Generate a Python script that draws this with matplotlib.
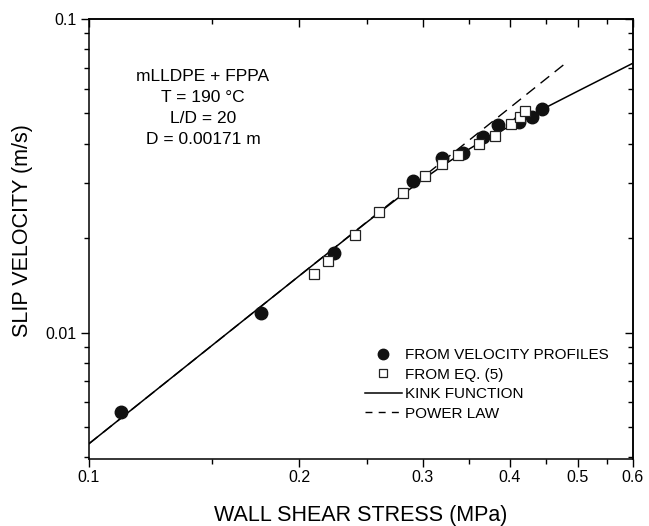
import matplotlib
matplotlib.use("Agg")
import matplotlib.pyplot as plt
from matplotlib.ticker import FixedLocator, NullFormatter, LogLocator, FixedFormatter
from matplotlib.lines import Line2D

plt.rcParams['font.family'] = ['Liberation Sans', 'DejaVu Sans']

# Slip velocity measured from velocity profiles
profile_stress = [0.111, 0.176, 0.224, 0.291, 0.320, 0.343, 0.366, 0.385, 0.412, 0.430, 0.445]
profile_slip = [0.00556, 0.0115, 0.0179, 0.0305, 0.0360, 0.0375, 0.0420, 0.0460, 0.0469, 0.0488, 0.0516]

# Slip velocity computed from Eq. (5)
eq5_stress = [0.2095, 0.220, 0.240, 0.260, 0.281, 0.302, 0.320, 0.3375, 0.361, 0.381, 0.401, 0.414, 0.421]
eq5_slip = [0.0154, 0.0169, 0.0204, 0.0242, 0.0279, 0.0316, 0.0345, 0.0368, 0.0399, 0.0425, 0.0461, 0.0488, 0.0507]

# Kink-function fit
kink_stress = [0.10, 0.15, 0.20, 0.25, 0.28, 0.30, 0.32, 0.34, 0.36, 0.38, 0.40, 0.45, 0.50, 0.55, 0.60]
kink_slip = [0.00442, 0.00910, 0.01518, 0.02253, 0.02741, 0.03073, 0.03398, 0.03704,
             0.04000, 0.04280, 0.04552, 0.05218, 0.05884, 0.06553, 0.0723]

# Power-law fit
power_stress = [0.10, 0.484]
power_slip = [0.00442, 0.0732]

x_major = [0.1, 0.2, 0.3, 0.4, 0.5, 0.6]
x_major_labels = ["0.1", "0.2", "0.3", "0.4", "0.5", "0.6"]
x_minor = [0.15, 0.25, 0.35, 0.45, 0.55]
y_major = [0.01, 0.1]
y_major_labels = ["0.01", "0.1"]

info_lines = ["mLLDPE + FPPA", "T = 190 \u00b0C", "L/D = 20", "D = 0.00171 m"]
legend_labels = ["FROM VELOCITY PROFILES", "FROM EQ. (5)", "KINK FUNCTION", "POWER LAW"]

W, H = 649, 526
fig = plt.figure(figsize=(W / 100, H / 100), dpi=100)
ax = fig.add_axes([89 / W, 1 - 459 / H, (633 - 89) / W, (459 - 19) / H])

ax.set_xscale('log')
ax.set_yscale('log')
ax.set_xlim(0.1, 0.6)
ax.set_ylim(0.00395, 0.1)

ax.plot(power_stress, power_slip, color='black', lw=1.0, dashes=(8, 5), zorder=2)
ax.plot(kink_stress, kink_slip, color='black', lw=1.1, zorder=3)
ax.plot(profile_stress, profile_slip, 'o', color='#111111', ms=9, mec='#111111', zorder=4)
ax.plot(eq5_stress, eq5_slip, 's', mfc='white', mec='#222222', mew=0.9, ms=7.5, zorder=5)

# Axis ticks (outward on bottom/left)
ax.xaxis.set_major_locator(FixedLocator(x_major))
ax.xaxis.set_major_formatter(FixedFormatter(x_major_labels))
ax.xaxis.set_minor_locator(FixedLocator(x_minor))
ax.xaxis.set_minor_formatter(NullFormatter())
ax.yaxis.set_major_locator(FixedLocator(y_major))
ax.yaxis.set_major_formatter(FixedFormatter(y_major_labels))
ax.yaxis.set_minor_locator(LogLocator(base=10, subs=range(2, 10)))
ax.yaxis.set_minor_formatter(NullFormatter())
ax.tick_params(which='major', direction='out', length=6, width=1.0, labelsize=11.5, pad=2)
ax.tick_params(which='minor', direction='out', length=3.5, width=1.0)
ax.tick_params(axis='y', which='major', pad=3)
for s in ax.spines.values():
    s.set_linewidth(1.1)

# Inward ticks on the top and right edges
top = ax.secondary_xaxis('top')
top.xaxis.set_major_locator(FixedLocator(x_major))
top.xaxis.set_minor_locator(FixedLocator(x_minor))
top.xaxis.set_major_formatter(NullFormatter())
top.xaxis.set_minor_formatter(NullFormatter())
top.tick_params(which='major', direction='in', length=6, width=1.0)
top.tick_params(which='minor', direction='in', length=3.5, width=1.0)
top.spines['top'].set_linewidth(1.1)

right = ax.secondary_yaxis('right')
right.yaxis.set_major_locator(FixedLocator(y_major))
right.yaxis.set_minor_locator(LogLocator(base=10, subs=range(2, 10)))
right.yaxis.set_major_formatter(NullFormatter())
right.yaxis.set_minor_formatter(NullFormatter())
right.tick_params(which='major', direction='in', length=6, width=1.0)
right.tick_params(which='minor', direction='in', length=3.5, width=1.0)
right.spines['right'].set_linewidth(1.1)

ax.set_xlabel("WALL SHEAR STRESS (MPa)", fontsize=15.5, labelpad=14)
ax.set_ylabel("SLIP VELOCITY (m/s)", fontsize=15.5)
ax.yaxis.set_label_coords(-0.103, 0.52)

info_y = [0.869, 0.822, 0.773, 0.725]
for line, yy in zip(info_lines, info_y):
    ax.text(0.2096, yy, line, transform=ax.transAxes, ha='center', va='center', fontsize=12.5)

handles = [
    Line2D([], [], ls='none', marker='o', color='#111111', ms=7.5),
    Line2D([], [], ls='none', marker='s', mfc='white', mec='#222222', mew=0.9, ms=6),
    Line2D([], [], color='black', lw=1.1),
    Line2D([], [], color='black', lw=1.0, dashes=(5, 4.5)),
]
fig.legend(handles, legend_labels, loc='upper left',
           bbox_to_anchor=(365 / W, 1 - 348 / H), bbox_transform=fig.transFigure,
           frameon=False, fontsize=11, borderpad=0, borderaxespad=0,
           handlelength=2.4, handletextpad=0.25, labelspacing=0.36)

fig.savefig("out.png", dpi=100)
